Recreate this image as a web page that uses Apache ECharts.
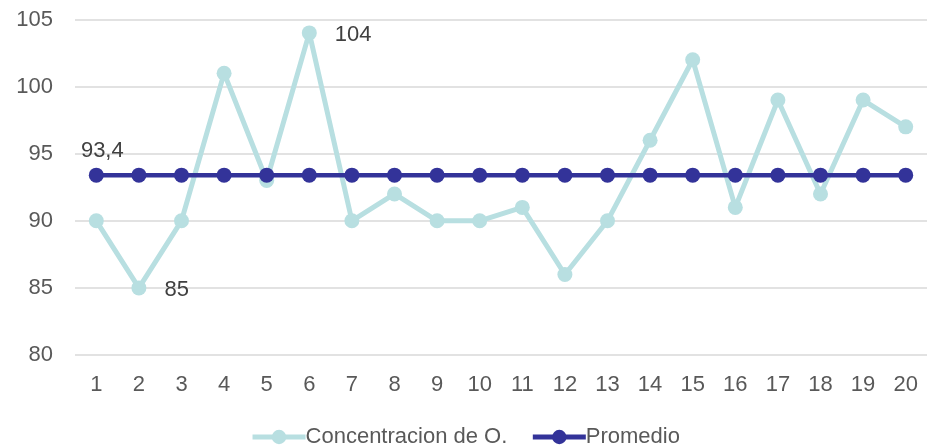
<!DOCTYPE html>
<html>
<head>
<meta charset="utf-8">
<script src="https://cdn.jsdelivr.net/npm/echarts@6/dist/echarts.min.js"></script>
<style>
  html, body { margin: 0; padding: 0; background: #fff; }
  #chart { width: 930px; height: 447px; }
</style>
</head>
<body>
<div id="chart"></div>
<script>
// Sample numbers along the x axis
const categories = ['1','2','3','4','5','6','7','8','9','10','11','12','13','14','15','16','17','18','19','20'];
// Measured oxygen concentration per sample
const concentracion = [90, 85, 90, 101, 93, 104, 90, 92, 90, 90, 91, 86, 90, 96, 102, 91, 99, 92, 99, 97];
// Mean value, repeated for every sample
const promedioValue = 93.4;
const promedio = categories.map(() => promedioValue);
// Points that carry a value label: index -> label position
const concLabelled = { 1: 'right', 5: 'right' };

const font = 'Liberation Sans, Arial, sans-serif';
const fs = 22;
const chart = echarts.init(document.getElementById('chart'), null, { renderer: 'canvas' });

chart.setOption({
  animation: false,
  textStyle: { fontFamily: font },
  grid: { left: 75, right: 3, top: 19.5, bottom: 92 },
  legend: {
    top: 426,
    left: 'center',
    padding: 0,
    itemWidth: 53,
    itemHeight: 18,
    itemGap: 23,
    lineStyle: { width: 5 },
    textStyle: { fontFamily: font, fontSize: fs, color: '#595959', padding: [0, 0, 0, -5] },
    data: ['Concentracion de O.', 'Promedio']
  },
  xAxis: {
    type: 'category',
    data: categories,
    boundaryGap: true,
    axisLine: { show: false },
    axisTick: { show: false },
    axisLabel: { fontFamily: font, fontSize: fs, color: '#595959', margin: 19 }
  },
  yAxis: {
    type: 'value',
    min: 80,
    max: 105,
    interval: 5,
    axisLine: { show: false },
    axisTick: { show: false },
    splitLine: { lineStyle: { color: '#d9d9d9', width: 1.5 } },
    axisLabel: { fontFamily: font, fontSize: fs, color: '#595959', margin: 22 }
  },
  series: [
    {
      name: 'Concentracion de O.',
      type: 'line',
      data: concentracion.map((v, i) => concLabelled[i] ? {
        value: v,
        label: { show: true, position: concLabelled[i], distance: 18, offset: [0, 2.5] }
      } : v),
      symbol: 'circle',
      symbolSize: 15,
      itemStyle: { color: '#b8dfe1' },
      lineStyle: { color: '#b8dfe1', width: 5 },
      label: { fontFamily: font, fontSize: fs, color: '#404040' },
      z: 2
    },
    {
      name: 'Promedio',
      type: 'line',
      data: promedio.map((v, i) => i === 0 ? {
        value: v,
        label: {
          show: true,
          position: 'top',
          distance: 6,
          offset: [6, 0],
          formatter: (p) => String(p.value).replace('.', ',')
        }
      } : v),
      symbol: 'circle',
      symbolSize: 15,
      itemStyle: { color: '#333399' },
      lineStyle: { color: '#333399', width: 4.5 },
      label: { fontFamily: font, fontSize: fs, color: '#404040' },
      z: 3
    }
  ]
});
</script>
</body>
</html>
